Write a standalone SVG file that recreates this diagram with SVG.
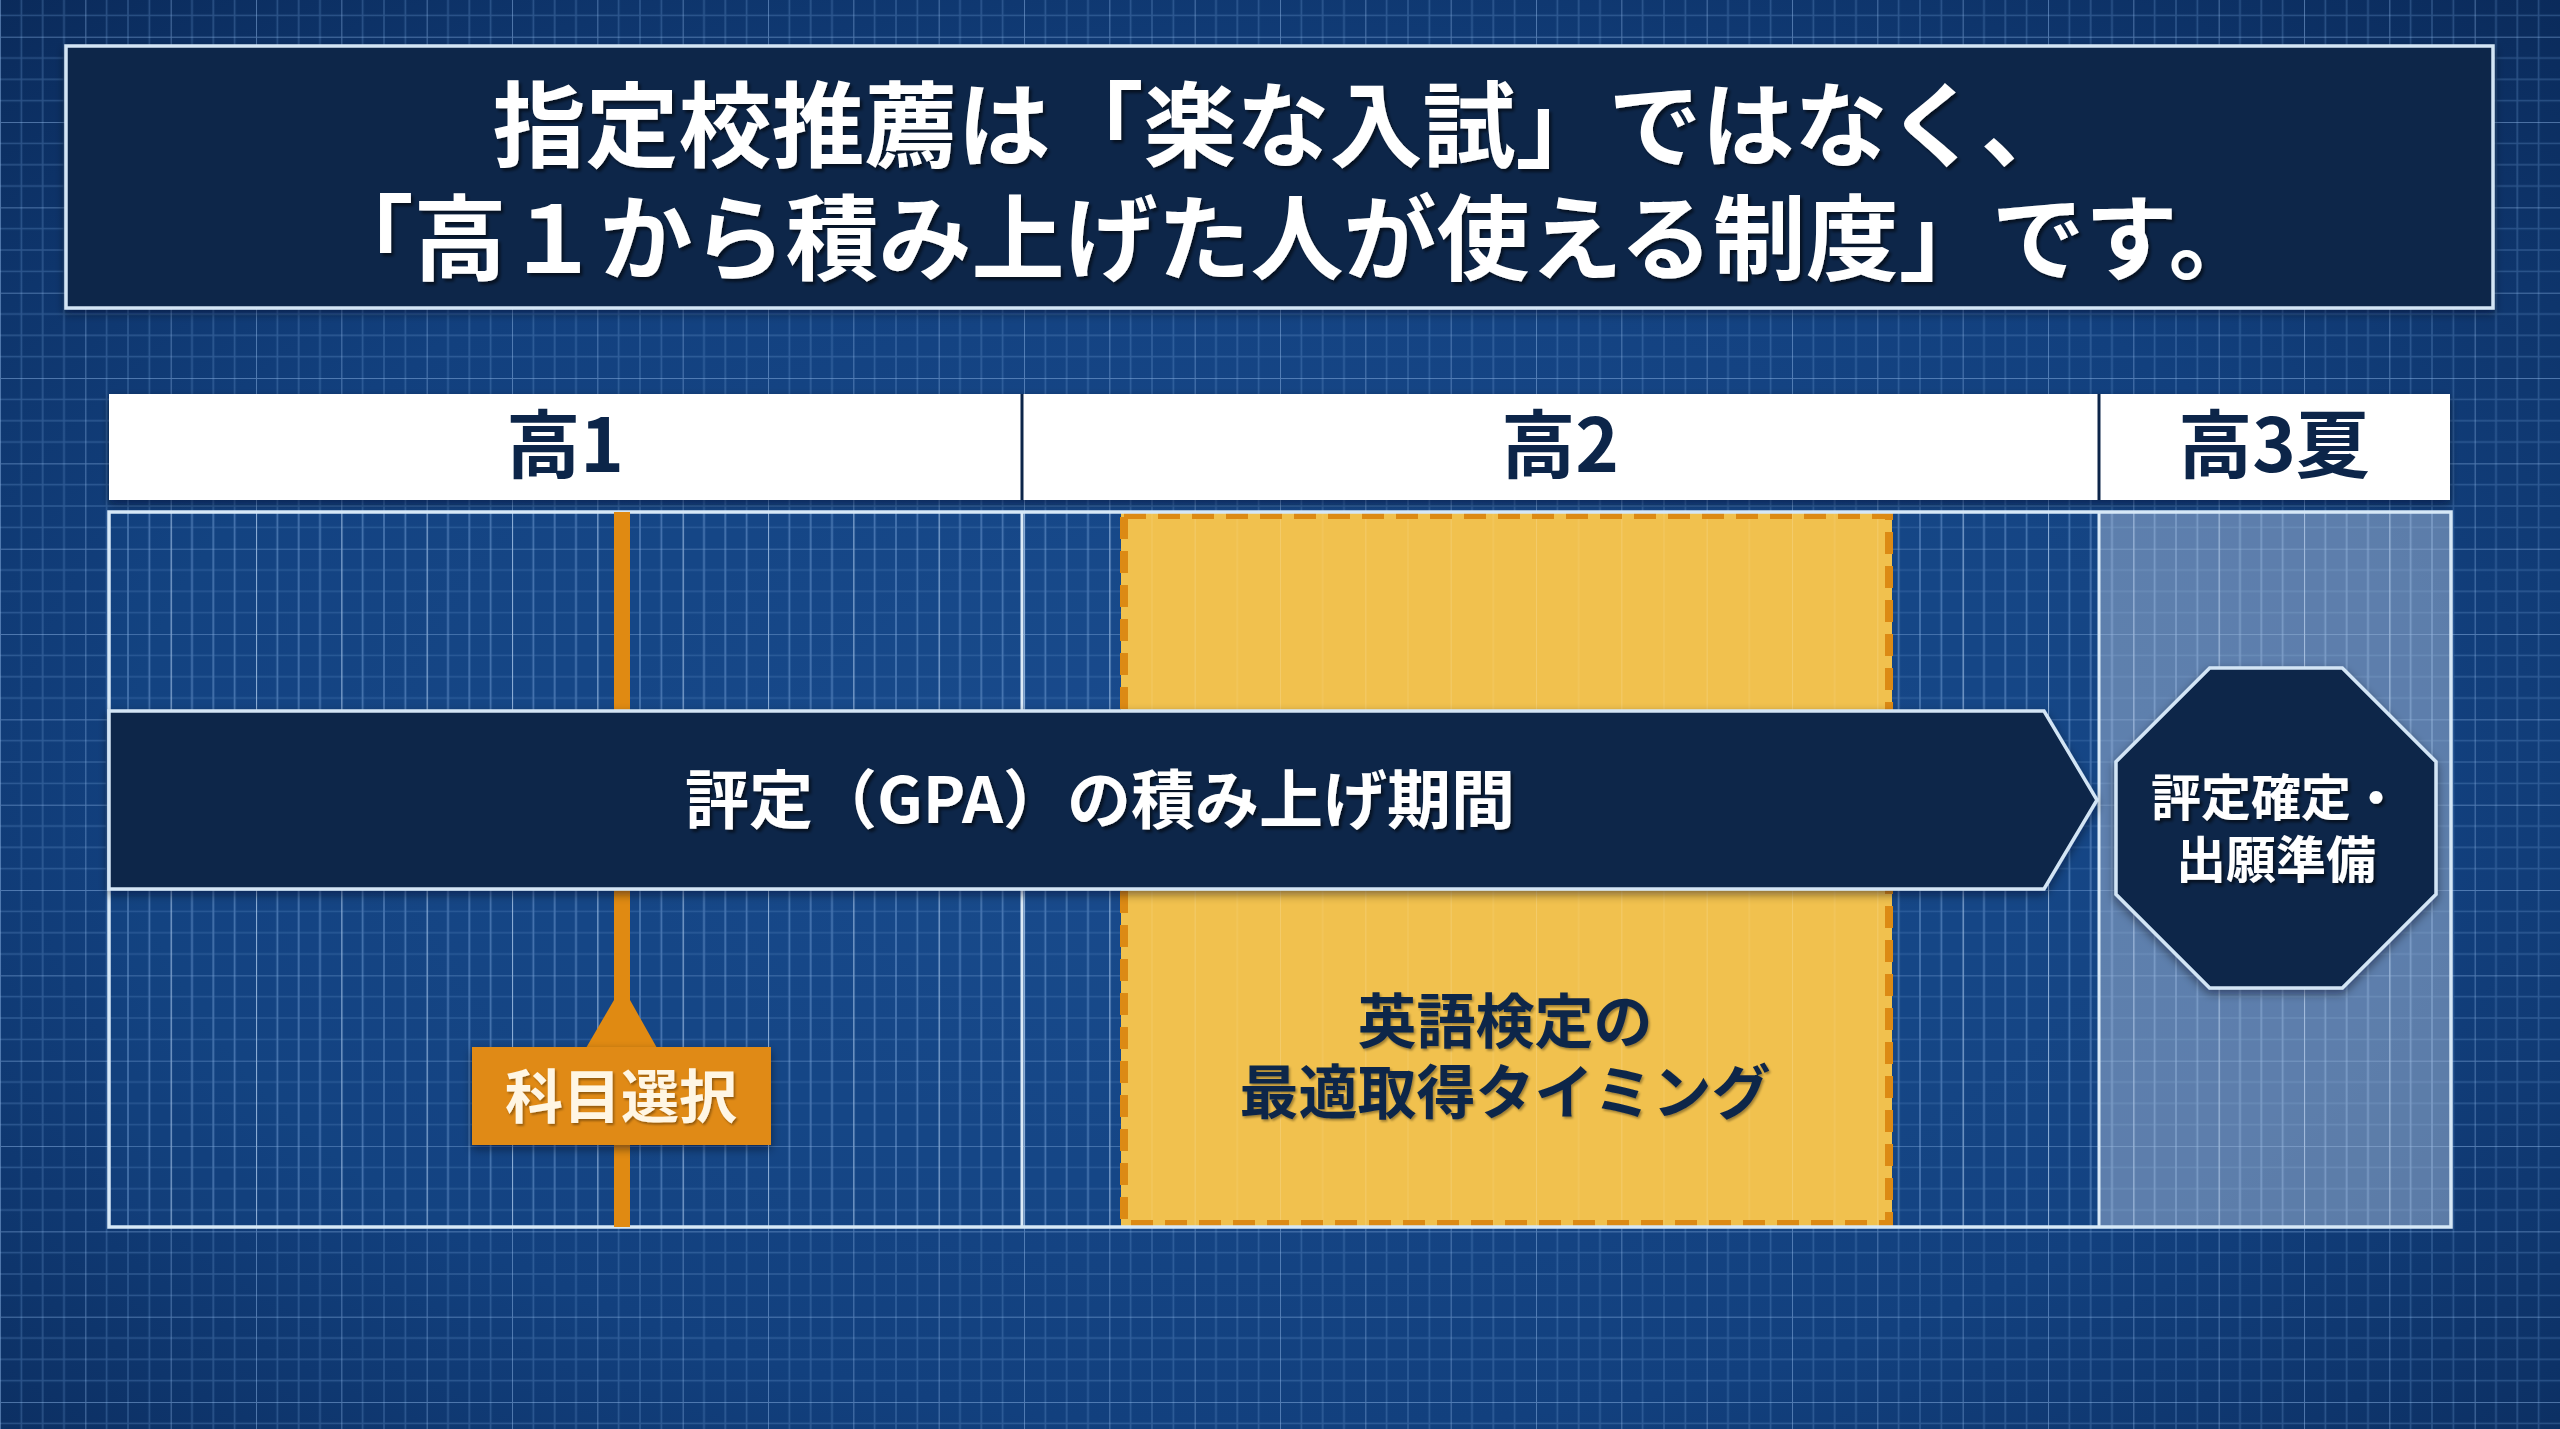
<svg xmlns="http://www.w3.org/2000/svg" width="2560" height="1429" viewBox="0 0 2560 1429">
<defs>
  <radialGradient id="bgGrad" cx="50%" cy="55%" r="75%">
    <stop offset="0" stop-color="#1a4c8f"/>
    <stop offset="0.6" stop-color="#12407e"/>
    <stop offset="1" stop-color="#0a2a5a"/>
  </radialGradient>
  <pattern id="grid" x="0" y="36.7" width="85.333" height="85.333" patternUnits="userSpaceOnUse">
    <path d="M21.333 0V85.333M42.667 0V85.333M64 0V85.333M0 21.333H85.333M0 42.667H85.333M0 64H85.333" stroke="#6d9bd6" stroke-opacity="0.32" stroke-width="1.6" fill="none"/>
    <path d="M0 0V85.333M0 0H85.333" stroke="#8db6e8" stroke-opacity="0.5" stroke-width="2" fill="none"/>
  </pattern>
  <pattern id="bodyGrid" x="0" y="36.7" width="85.333" height="85.333" patternUnits="userSpaceOnUse">
    <path d="M21.333 0V85.333M42.667 0V85.333M64 0V85.333" stroke="#8ab2e6" stroke-opacity="0.32" stroke-width="1.6" fill="none"/>
    <path d="M0 0V85.333" stroke="#b9d4f2" stroke-opacity="0.6" stroke-width="2.2" fill="none"/>
  </pattern>
  <pattern id="yLines" x="0" y="0" width="85.333" height="85.333" patternUnits="userSpaceOnUse">
    <path d="M0 0V85.333" stroke="#ffffff" stroke-opacity="0.16" stroke-width="2" fill="none"/>
    <path d="M42.667 0V85.333" stroke="#ffffff" stroke-opacity="0.08" stroke-width="1.5" fill="none"/>
  </pattern>
  <filter id="shadow" x="-10%" y="-10%" width="120%" height="130%">
    <feDropShadow dx="0" dy="4" stdDeviation="5" flood-color="#000814" flood-opacity="0.45"/>
  </filter>
  <filter id="tshadow" x="-5%" y="-20%" width="110%" height="140%">
    <feDropShadow dx="2.5" dy="3" stdDeviation="1.5" flood-color="#000000" flood-opacity="0.55"/>
  </filter>
  <filter id="tshadowLight" x="-5%" y="-20%" width="110%" height="140%">
    <feDropShadow dx="1.5" dy="2" stdDeviation="1" flood-color="#000000" flood-opacity="0.35"/>
  </filter>
</defs>
<style>
  .jp { font-family: "Noto Sans CJK JP", "Noto Sans", sans-serif; font-weight: 700; }
  .white { fill: #ffffff; }
  .navy { fill: #0c2549; }
  .panel { fill: #0c2549; stroke: #d3e5f5; stroke-width: 3.5; }
  .hdr { fill: #ffffff; }
  .divider { stroke: #0c2549; stroke-width: 3; }
  .colline { stroke: #dcebf8; stroke-width: 3; }
  .orange { fill: #e08a12; }
</style>

<!-- background -->
<rect x="0" y="0" width="2560" height="1429" fill="url(#bgGrad)"/>
<rect x="0" y="0" width="2560" height="1429" fill="url(#grid)"/>

<!-- title -->
<g id="title">
  <rect x="66" y="46" width="2427" height="262" class="panel" filter="url(#shadow)"/>
  <text class="jp white" font-size="93" text-anchor="middle" filter="url(#tshadow)"><tspan x="1283" y="160">指定校推薦は「楽な入試」ではなく、</tspan><tspan x="1291" y="273">「高１から積み上げた人が使える制度」です。</tspan></text>
</g>

<!-- header row -->
<g id="header">
  <rect x="109" y="394" width="2341" height="106" class="hdr" filter="url(#shadow)"/>
  <line x1="1022" y1="394" x2="1022" y2="500" class="divider"/>
  <line x1="2099" y1="394" x2="2099" y2="500" class="divider"/>
  <text class="jp navy" font-size="74" x="565" y="472" text-anchor="middle">高1</text>
  <text class="jp navy" font-size="74" x="1560" y="472" text-anchor="middle">高2</text>
  <text class="jp navy" font-size="74" x="2274" y="472" text-anchor="middle">高3夏</text>
</g>

<!-- timeline body -->
<g id="timeline-body">
  <rect x="109" y="512" width="2342" height="715" fill="#174a8c" fill-opacity="0.25"/>
  <rect x="109" y="512" width="2342" height="715" fill="url(#bodyGrid)"/>
  <rect x="2099" y="512" width="352" height="715" fill="#c3d2e8" fill-opacity="0.42"/>
</g>

<g id="english-test-window">
  <rect x="1121" y="512" width="771" height="715" fill="#f1c14e"/>
  <rect x="1121" y="512" width="771" height="715" fill="url(#yLines)"/>
  <rect x="1124" y="515" width="765" height="709" fill="none" stroke="#dc8a14" stroke-width="8" stroke-dasharray="22 12"/>
  <text class="jp navy" font-size="59" text-anchor="middle" filter="url(#tshadowLight)"><tspan x="1505" y="1043">英語検定の</tspan><tspan x="1505" y="1114">最適取得タイミング</tspan></text>
</g>

<g id="column-lines">
  <line x1="1022" y1="512" x2="1022" y2="1227" class="colline"/>
  <line x1="2099" y1="512" x2="2099" y2="1227" class="colline"/>
  <rect x="109" y="512" width="2342" height="715" fill="none" stroke="#d6e8f7" stroke-width="3.5"/>
</g>

<!-- connectors: subject-selection marker line -->
<g id="connectors">
  <rect x="614" y="512" width="16" height="715" class="orange"/>
  <polygon points="614,1000 630,1000 657,1048 586,1048" class="orange"/>
</g>

<g id="subject-selection">
  <rect x="472" y="1047" width="299" height="98" class="orange" filter="url(#shadow)"/>
  <text class="jp" font-size="58" x="621" y="1118" text-anchor="middle" fill="#fff6e4" filter="url(#tshadowLight)">科目選択</text>
</g>

<g id="gpa-period">
  <polygon points="109,711 2044,711 2097,800 2044,889 109,889" class="panel" filter="url(#shadow)"/>
  <text class="jp white" font-size="64" x="1100" y="823" text-anchor="middle" filter="url(#tshadow)">評定（GPA）の積み上げ期間</text>
</g>

<g id="final-grade">
  <polygon points="2209.7,668 2342.3,668 2436,761.7 2436,894.3 2342.3,988 2209.7,988 2116,894.3 2116,761.7" class="panel" fill="#0d2a52" filter="url(#shadow)"/>
  <text class="jp white" font-size="50" text-anchor="middle" filter="url(#tshadow)"><tspan x="2276" y="816">評定確定・</tspan><tspan x="2276" y="878">出願準備</tspan></text>
</g>
</svg>
